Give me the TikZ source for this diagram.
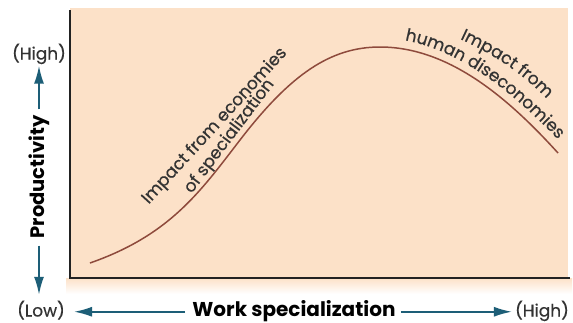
\documentclass[tikz,border=0pt]{standalone}
\usepackage{fontspec}
\setmainfont{Poppins}
\newfontfamily\popfb{Poppins}[FakeBold=0.5]
\usetikzlibrary{arrows.meta,decorations.text}
\definecolor{peach}{HTML}{FCE1C8}
\definecolor{axteal}{HTML}{1D5E77}
\definecolor{curvec}{HTML}{8E4A3C}
\definecolor{txtc}{HTML}{333333}
\definecolor{axisc}{HTML}{222222}
\begin{document}
\begin{tikzpicture}[x=1pt,y=-1pt,
  lbl/.style={font=\popfb\fontsize{17}{20}\selectfont, text=txtc, inner sep=0pt, text height=9.5pt, text depth=0pt, anchor=base},
  ttl/.style={font=\bfseries\fontsize{20}{22}\selectfont, text=black, inner sep=0pt, text height=9.5pt, text depth=0pt, anchor=base},
  vttl/.style={font=\bfseries\fontsize{19.5}{22}\selectfont, text=black, inner sep=0pt, rotate=90},
  arr/.style={draw=axteal, line width=1.8pt, -{Latex[length=18pt,width=10pt,fill=axteal]}},
  curvel/.style={font=\popfb\fontsize{17}{20}\selectfont, text=txtc, inner sep=0pt, anchor=base},
]
\useasboundingbox (0,0) rectangle (573,322);
\fill[white] (0,0) rectangle (573,322);
\shade[top color=peach, bottom color=white] (66,278) rectangle (572,294);
\fill[peach] (70,8) rectangle (568,278);
\draw[line width=1.3pt, draw=axisc] (70,10) -- (70,278) -- (570,278);

% curve
\draw[curvec, line width=1.5pt] (90,263) .. controls (170,235) and (200,192) .. (240,140)
   .. controls (290,75) and (330,47) .. (380,47)
   .. controls (450,47) and (510,100) .. (558,153);

% curve labels
\node[curvel, rotate=47.5] (eco1) at (218,129) {Impact from economies};
\node[curvel, rotate=53] (eco2) at (233,139) {of specialization};

\path[decorate, decoration={text along path, text color=txtc,
   text={|\popfb\fontsize{17}{20}\selectfont|Impact from}}]
   (460,39) .. controls (490,53) and (515,68) .. (541,93) -- (570,122);
\path[decorate, decoration={text along path, text color=txtc,
   text align={left, left indent=25pt},
   text={|\popfb\fontsize{17}{20}\selectfont|human diseconomies}}]
   (380,38) .. controls (450,38) and (516,94) .. (565,147) -- (590,175);

% axis labels
\node[lbl] (yhigh) at (39,59.5) {(High)};
\node[vttl] (prod) at (39,177) {Productivity};
\node[lbl] (low) at (41,316.5) {(Low)};
\node[ttl] (xttl) at (294,316.5) {Work specialization};
\node[lbl] (xhigh) at (542,316.5) {(High)};

% arrows
\draw[arr, shorten <=6pt, shorten >=6pt] (prod.east) -- (prod.east |- yhigh.south);
\draw[arr, shorten <=7pt, shorten >=12pt] (prod.west) -- (prod.west |- low.north);
\draw[arr, shorten <=7pt, shorten >=9pt] (xttl.west) -- (low.east);
\draw[arr, shorten <=5pt, shorten >=3pt] (xttl.east) -- (xhigh.west);
\end{tikzpicture}
\end{document}
